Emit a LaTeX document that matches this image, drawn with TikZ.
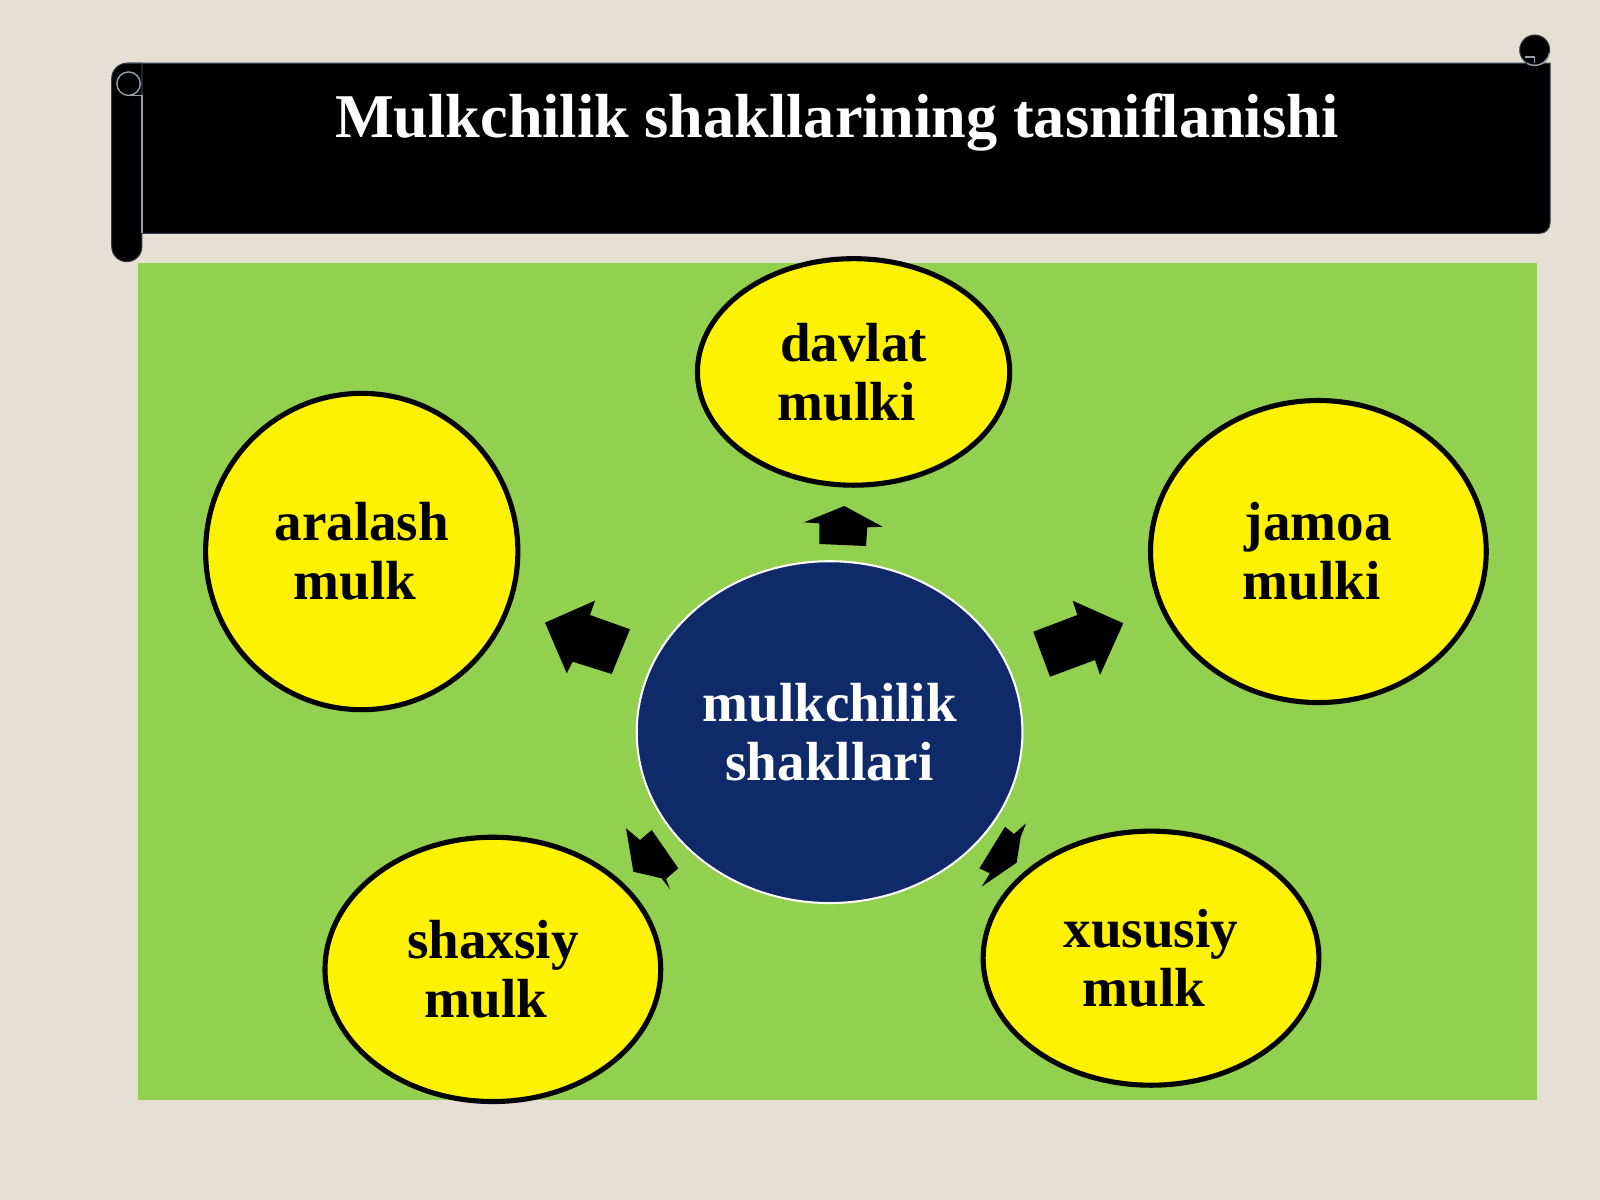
\documentclass[tikz,border=0pt]{standalone}
\usepackage{fontspec}
\setmainfont{Liberation Serif}
\usetikzlibrary{shapes.geometric}
\definecolor{bgbeige}{RGB}{230,224,212}
\definecolor{slidegreen}{RGB}{146,208,80}
\definecolor{navyc}{RGB}{15,42,105}
\definecolor{rollline}{RGB}{150,160,170}
\definecolor{bandedge}{RGB}{50,60,75}
\tikzset{
  oval/.style={ellipse, draw=black, line width=2.5pt, fill=yellow, inner sep=0pt,
    align=center, font=\fontsize{27}{29}\selectfont\bfseries, text=black},
  hub/.style={ellipse, draw=white, line width=1pt, fill=navyc, inner sep=0pt,
    align=center, font=\fontsize{27}{29}\selectfont\bfseries, text=white},
  blockarrow/.style={fill=black},
  rollstroke/.style={draw=rollline, line width=0.7pt},
  titletext/.style={text=white, font=\fontsize{30.5}{33}\selectfont\bfseries, inner sep=0pt}
}
\begin{document}
\begin{tikzpicture}[x=0.5pt,y=-0.5pt]
\useasboundingbox (0,0) rectangle (1568,1176);
\fill[bgbeige] (0,0) rectangle (1568,1176);

% scroll banner
\filldraw[fill=black, draw=bandedge, line width=0.5pt]
  (124,62) -- (1519,62) -- (1519,218.7) arc[start angle=0, end angle=90, radius=10]
  -- (139,228.7) -- (139,62) -- cycle;
\filldraw[fill=black, draw=bandedge, line width=0.5pt]
  (139,62) -- (139,241.75) arc[start angle=0, end angle=180, radius=14.75]
  -- (109.5,76.75) arc[start angle=180, end angle=270, radius=14.75] -- cycle;
\draw[rollstroke] (139,93) -- (139,228.7);
\draw[rollstroke] (126,82) circle[radius=11.5];
\draw[rollstroke] (126,93.5) -- (139,93.5);
\filldraw[fill=black, draw=bandedge, line width=0.5pt] (1504,49) circle[radius=14.7];
\draw[rollstroke] (1518.5,52) arc[start angle=10, end angle=120, radius=14.7];
\draw[rollstroke] (1494,56) -- (1504,56) -- (1504,62);
\node[titletext, anchor=base] (title) at (820,135) {Mulkchilik shakllarining tasniflanishi};

% green panel
\fill[slidegreen] (135.6,257.4) rectangle (1506,1078);

% centre
\node[hub, minimum width=189pt, minimum height=167.5pt] (hubnode) at (813,717.5) {mulkchilik\\shakllari};

% outer ovals
\node[oval, minimum width=153pt, minimum height=111pt] (davlat) at (836.5,364.5) {davlat\\mulki\hspace*{0.25em}};
\node[oval, minimum width=153pt, minimum height=155pt] (aralash) at (354.5,540.5) {aralash\\mulk\hspace*{0.25em}};
\node[oval, minimum width=164.5pt, minimum height=148pt] (jamoa) at (1292,540.5) {jamoa\\mulki\hspace*{0.25em}};
\node[oval, minimum width=164.5pt, minimum height=129.5pt] (shaxsiy) at (483,950) {shaxsiy\\mulk\hspace*{0.25em}};
\node[oval, minimum width=164.5pt, minimum height=124.5pt] (xususiy) at (1128,939) {xususiy\\mulk\hspace*{0.25em}};

% block arrows
\fill[blockarrow] (827.4,495.9) -- (865,516.2) -- (850,516.8) -- (848.7,535.1)
  -- (802.9,533.1) -- (802.9,512.9) -- (787.9,511.9) -- cycle;
\fill[blockarrow] (534.1,610.2) -- (583.1,588.7) -- (578.2,602.7) -- (617.4,616.7)
  -- (599.5,660.5) -- (561.2,648.5) -- (555.4,659.8) -- cycle;
\fill[blockarrow] (1012.6,619.1) -- (1055.8,602.7) -- (1051.2,588.7) -- (1100.8,610.8)
  -- (1078,661.5) -- (1073.1,646.8) -- (1029,663.2) -- cycle;
\fill[blockarrow] (613.5,811.7) -- (627.2,823.2) -- (638.7,813.4) -- (664.7,850.9)
  -- (652.7,861.4) -- (656.6,871.5) -- (648.4,860.7) -- (620.7,854.3) -- cycle;
\fill[blockarrow] (984.9,810.2) -- (993.7,817.3) -- (1005.5,806.9) -- (1000.3,819.9)
  -- (996.3,845.4) -- (962.0,868.9) -- (970.2,855.9) -- (959.8,851.0) -- cycle;
\end{tikzpicture}
\end{document}
